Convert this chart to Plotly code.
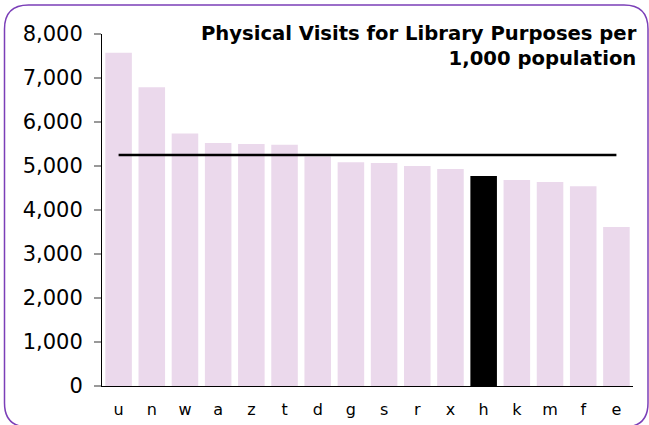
import plotly.graph_objects as go

categories = ["u", "n", "w", "a", "z", "t", "d", "g", "s", "r", "x", "h", "k", "m", "f", "e"]
values = [7575, 6790, 5740, 5525, 5500, 5485, 5215, 5085, 5068, 5000, 4932, 4773, 4682, 4636, 4540, 3614]
highlight = "h"
average = 5250
title_lines = ["Physical Visits for Library Purposes per", "1,000 population"]
y_ticks = [0, 1000, 2000, 3000, 4000, 5000, 6000, 7000, 8000]

W, H = 649, 425
ML, MR, MT, MB = 102, 16, 34, 39
PW, PH = W - ML - MR, H - MT - MB

def px(x):
    return (x - ML) / PW

def py(y):
    return (H - MB - y) / PH

bar_color = "#EBD9EC"
colors = ["#000000" if c == highlight else bar_color for c in categories]

fig = go.Figure()
fig.add_trace(go.Bar(
    x=categories, y=values,
    marker=dict(color=colors, line=dict(width=0)),
    width=0.8,
    hoverinfo="x+y",
))
fig.add_trace(go.Scatter(
    x=[categories[0], categories[-1]], y=[average, average],
    mode="lines", line=dict(color="#000000", width=2.5),
    hoverinfo="skip",
))

# rounded border (pixel coords -> paper)
x0, x1, y0, y1, r = 4.5, 648, 5, 427, 24
path = (
    f"M {px(x0 + r)} {py(y0)} L {px(x1 - r)} {py(y0)} "
    f"Q {px(x1)} {py(y0)} {px(x1)} {py(y0 + r)} "
    f"L {px(x1)} {py(y1 - r)} Q {px(x1)} {py(y1)} {px(x1 - r)} {py(y1)} "
    f"L {px(x0 + r)} {py(y1)} Q {px(x0)} {py(y1)} {px(x0)} {py(y1 - r)} "
    f"L {px(x0)} {py(y0 + r)} Q {px(x0)} {py(y0)} {px(x0 + r)} {py(y0)} Z"
)
fig.add_shape(type="path", path=path, xref="paper", yref="paper",
              line=dict(color="#7B3FB8", width=1.5), fillcolor="rgba(0,0,0,0)", layer="below")

fig.add_annotation(
    text="<b>" + "<br>".join(title_lines) + "</b>", xref="paper", yref="paper",
    x=px(639), y=py(20), xanchor="right", yanchor="top", align="right",
    showarrow=False, font=dict(family="DejaVu Sans", size=19.6, color="#000000"),
)

fig.update_layout(
    width=W, height=H,
    margin=dict(l=ML, r=MR, t=MT, b=MB, pad=0, autoexpand=False),
    paper_bgcolor="white", plot_bgcolor="white",
    showlegend=False, bargap=0.2,
    font=dict(family="DejaVu Sans", color="#000000"),
)
fig.update_xaxes(
    type="category", showline=True, linecolor="#000000", linewidth=1,
    ticks="", showgrid=False, tickfont=dict(size=16, family="DejaVu Sans"),
    ticklabelstandoff=9, range=[-0.5, len(categories) - 0.5], automargin=False,
)
fig.update_yaxes(
    range=[0, 8000], tickvals=y_ticks, tickformat=",",
    showline=True, linecolor="#000000", linewidth=1,
    ticks="outside", ticklen=7, tickcolor="#999999", tickwidth=1.5,
    showgrid=False, zeroline=False, tickfont=dict(size=21, family="DejaVu Sans"),
    ticklabelstandoff=7, automargin=False,
)

fig.write_html("out.html", config={"displayModeBar": False},
               post_script="document.body.style.margin='0';document.body.style.padding='0';")
